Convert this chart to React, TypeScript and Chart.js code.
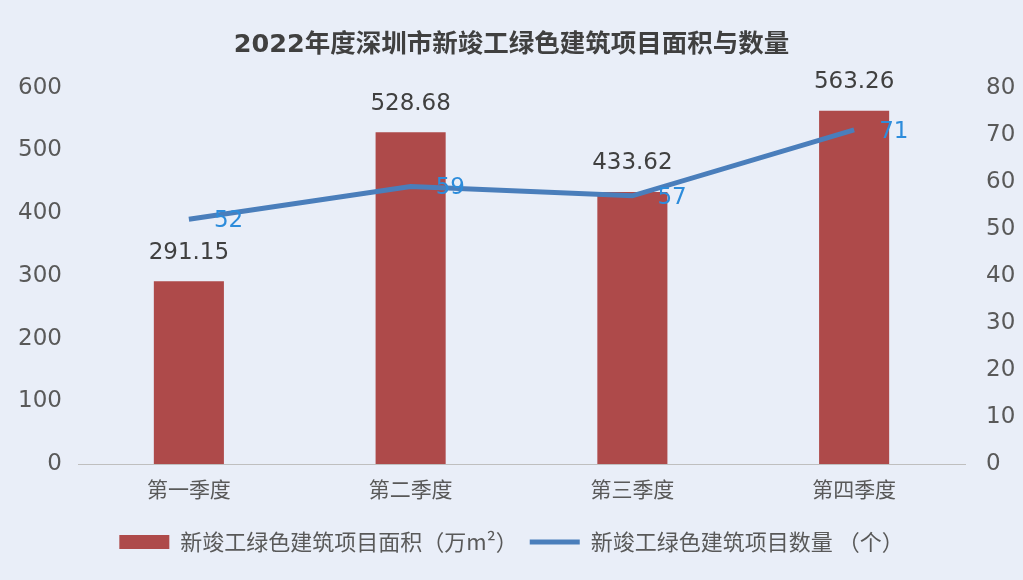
import { Chart, registerables } from "chart.js";
import { useEffect, useRef } from "react";

Chart.register(...registerables);

const quarters = ["第一季度", "第二季度", "第三季度", "第四季度"];
const areaValues = [291.15, 528.68, 433.62, 563.26];
const countValues = [52, 59, 57, 71];
const areaLabel = "新竣工绿色建筑项目面积（万m²）";
const countLabel = "新竣工绿色建筑项目数量 （个）";
const titleText = "2022年度深圳市新竣工绿色建筑项目面积与数量";

const NUM_FONT = "'DejaVu Sans', 'Noto Sans CJK SC', sans-serif";
const CJK_FONT = "'Noto Sans CJK SC', sans-serif";

// draws the value labels above the bars and next to the line points
const valueLabels = {
  id: "valueLabels",
  afterDatasetsDraw(chart: Chart) {
    const ctx = chart.ctx;
    ctx.save();
    ctx.font = "23px " + NUM_FONT;
    const barMeta = chart.getDatasetMeta(0);
    ctx.fillStyle = "#404040";
    ctx.textAlign = "center";
    ctx.textBaseline = "bottom";
    barMeta.data.forEach((el: any, i: number) => {
      ctx.fillText(areaValues[i].toFixed(2), el.x, el.y - 17);
    });
    const lineMeta = chart.getDatasetMeta(1);
    ctx.fillStyle = "#2D8CDB";
    ctx.textAlign = "left";
    ctx.textBaseline = "middle";
    lineMeta.data.forEach((el: any, i: number) => {
      ctx.fillText(String(countValues[i]), el.x + 25, el.y + 2);
    });
    ctx.restore();
  }
};

const App = () => {
  const canvasRef = useRef<HTMLCanvasElement | null>(null);

  useEffect(() => {
    document.body.style.margin = "0";
    if (!canvasRef.current) return;

    const chart = new Chart(canvasRef.current, {
      type: "bar",
      data: {
        labels: quarters,
        datasets: [
          {
            type: "bar",
            label: areaLabel,
            data: areaValues,
            backgroundColor: "#AE4A4A",
            borderWidth: 0,
            barPercentage: 0.316,
            categoryPercentage: 1,
            yAxisID: "y",
            order: 1
          },
          {
            type: "line",
            label: countLabel,
            data: countValues,
            borderColor: "#4A7EBB",
            backgroundColor: "#4A7EBB",
            borderWidth: 5,
            pointRadius: 0,
            tension: 0,
            yAxisID: "y1",
            order: 0
          }
        ] as any
      },
      options: {
        animation: false,
        responsive: true,
        maintainAspectRatio: false,
        layout: { padding: { bottom: 17 } },
        plugins: {
          tooltip: { enabled: false },
          title: {
            display: true,
            text: titleText,
            color: "#404040",
            font: { family: NUM_FONT, size: 25.5, weight: "bold" },
            padding: { top: 30, bottom: 27 }
          },
          legend: {
            position: "bottom",
            labels: {
              color: "#595959",
              font: { family: CJK_FONT, size: 22 },
              usePointStyle: true,
              pointStyleWidth: 50,
              boxHeight: 14,
              padding: 12,
              sort: (a: any, b: any) => a.datasetIndex - b.datasetIndex,
              generateLabels: (c: Chart) => {
                const items = Chart.defaults.plugins.legend.labels.generateLabels(c);
                items.forEach((it: any) => {
                  if (it.datasetIndex === 0) {
                    it.pointStyle = "rect";
                    it.lineWidth = 0;
                    it.strokeStyle = "#AE4A4A";
                  } else {
                    it.pointStyle = "line";
                    it.lineWidth = 5;
                    it.strokeStyle = "#4A7EBB";
                  }
                });
                return items;
              }
            }
          }
        },
        scales: {
          x: {
            grid: { display: false },
            border: { display: true, color: "#BFBFBF", width: 1 },
            ticks: {
              color: "#595959",
              font: { family: CJK_FONT, size: 21 },
              padding: 4
            },
            afterFit: (s: any) => {
              s.height = 55;
            }
          },
          y: {
            position: "left",
            min: 0,
            max: 600,
            grid: { display: false },
            border: { display: false },
            ticks: {
              stepSize: 100,
              color: "#595959",
              font: { family: NUM_FONT, size: 23 },
              padding: 8
            },
            afterFit: (s: any) => {
              s.width = 78;
            }
          },
          y1: {
            position: "right",
            min: 0,
            max: 80,
            grid: { display: false },
            border: { display: false },
            ticks: {
              stepSize: 10,
              color: "#595959",
              font: { family: NUM_FONT, size: 23 },
              padding: 13
            },
            afterFit: (s: any) => {
              s.width = 58;
            }
          }
        }
      },
      plugins: [valueLabels]
    });

    return () => {
      chart.destroy();
    };
  }, []);

  return (
    <div style={{ width: 1023, height: 580, background: "#E9EEF8", position: "relative" }}>
      <canvas ref={canvasRef}></canvas>
    </div>
  );
};

export default App;
